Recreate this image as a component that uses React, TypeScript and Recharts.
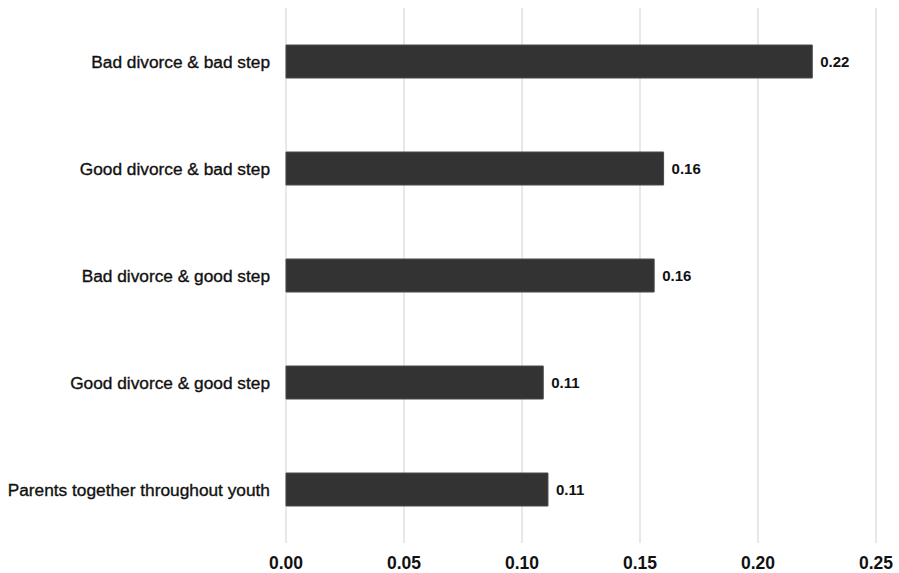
import { Bar, BarChart, CartesianGrid, LabelList, XAxis, YAxis } from "recharts";

const categories = [
    "Bad divorce & bad step",
    "Good divorce & bad step",
    "Bad divorce & good step",
    "Good divorce & good step",
    "Parents together throughout youth",
];
const values = [0.223, 0.16, 0.156, 0.109, 0.111];
const xTicks = [0, 0.05, 0.1, 0.15, 0.2, 0.25];

const data = categories.map((name, i) => ({ name, value: values[i] }));

const font = '"Liberation Sans", Arial, Helvetica, sans-serif';

export default function App() {
    return (
        <div style={{ position: "absolute", left: 0, top: 0, width: 899, height: 573, background: "#fff" }}>
            <BarChart
                width={899}
                height={573}
                data={data}
                layout="vertical"
                margin={{ top: 8, right: 23, bottom: 0, left: 0 }}
            >
                <CartesianGrid horizontal={false} stroke="#d9d9d9" strokeWidth={1.2} />
                <XAxis
                    type="number"
                    domain={[0, 0.25]}
                    ticks={xTicks}
                    interval={0}
                    height={30}
                    axisLine={false}
                    tickLine={false}
                    tickMargin={8}
                    tickFormatter={(v: number) => v.toFixed(2)}
                    tick={{ fill: "#111", fontSize: 17.5, fontWeight: 700, fontFamily: font }}
                />
                <YAxis
                    type="category"
                    dataKey="name"
                    width={286}
                    interval={0}
                    axisLine={false}
                    tickLine={false}
                    tickMargin={10}
                    tick={{ fill: "#111", stroke: "#111", strokeWidth: 0.35, fontSize: 17.3, fontFamily: font }}
                />
                <Bar dataKey="value" fill="#333333" stroke="#4a4a4a" strokeWidth={1} barSize={33} isAnimationActive={false}>
                    <LabelList
                        dataKey="value"
                        position="right"
                        offset={8}
                        formatter={(v: any) => Number(v).toFixed(2)}
                        style={{ fill: "#111", fontSize: 15, fontWeight: 700, fontFamily: font }}
                    />
                </Bar>
            </BarChart>
        </div>
    );
}
